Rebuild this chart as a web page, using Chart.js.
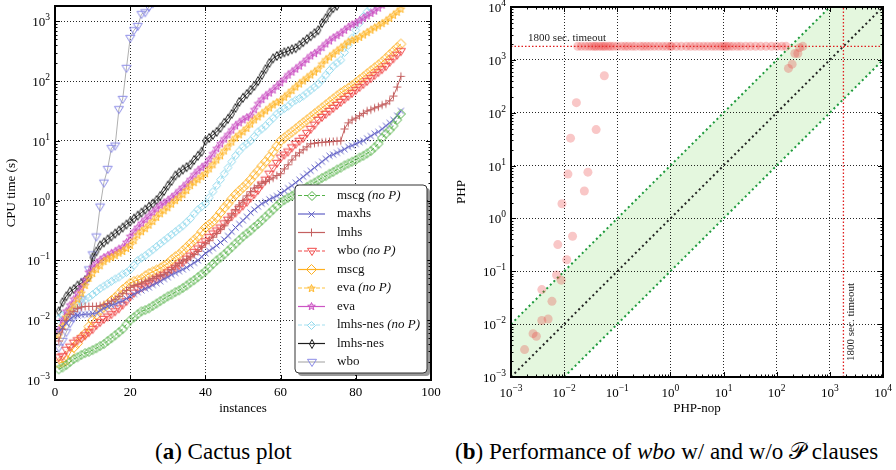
<!DOCTYPE html>
<html>
<head>
<meta charset="utf-8">
<script src="https://cdn.jsdelivr.net/npm/chart.js@4.4.1/dist/chart.umd.min.js"></script>
<style>
  body { margin: 0; background: #fff; width: 896px; height: 470px; position: relative; overflow: hidden; font-family: "Liberation Serif", "DejaVu Serif", serif; }
  #cactus { position: absolute; left: 0; top: 0; }
  #scatter { position: absolute; left: 445px; top: 0; }
  .cap { position: absolute; top: 440px; font-size: 23px; line-height: 1; white-space: nowrap; color: #000; }
</style>
</head>
<body>
<canvas id="cactus" width="445" height="420"></canvas>
<canvas id="scatter" width="451" height="420"></canvas>
<div class="cap" style="left:155px">(<b>a</b>) Cactus plot</div>
<div class="cap" style="left:455px">(<b>b</b>) Performance of <i>wbo</i> w/ and w/o 𝒫 clauses</div>
<script>
// ---- data: cactus plot (CPU time in seconds per solved instance) ----
const instances = [1,2,3,4,5,6,7,8,9,10,11,12,13,14,15,16,17,18,19,20,21,22,23,24,25,26,27,28,29,30,
  31,32,33,34,35,36,37,38,39,40,41,42,43,44,45,46,47,48,49,50,51,52,53,54,55,56,57,58,59,60,
  61,62,63,64,65,66,67,68,69,70,71,72,73,74,75,76,77,78,79,80,81,82,83,84,85,86,87,88,89,90,91,92];

const mscgNoP = [0.00151,0.00162,0.00178,0.0020,0.00224,0.0024,0.00263,0.00282,0.00295,0.00316,
  0.0034,0.0037,0.004,0.0045,0.005,0.0056,0.0063,0.0071,0.0085,0.01,
  0.0112,0.0126,0.0141,0.0148,0.0158,0.0174,0.019,0.0209,0.0229,0.0251,
  0.0269,0.0295,0.0316,0.0347,0.038,0.0427,0.0468,0.0525,0.0589,0.066,
  0.0759,0.0871,0.1,0.112,0.126,0.145,0.166,0.191,0.219,0.251,
  0.282,0.316,0.363,0.407,0.468,0.537,0.617,0.708,0.813,0.933,
  1.02,1.12,1.2,1.32,1.41,1.55,1.7,1.86,2.0,2.19,
  2.4,2.57,2.82,3.02,3.31,3.55,3.89,4.17,4.47,4.79,
  5.25,5.62,6.17,6.76,7.76,8.91,11.2,13.2,15.1,17.8,
  22.4,28.2];
const maxhs = [0.0063,0.0076,0.0089,0.0105,0.0117,0.012,0.0123,0.0126,0.0126,0.0129,
  0.0132,0.0145,0.0158,0.017,0.0178,0.0186,0.02,0.0209,0.0229,0.0251,
  0.0275,0.0295,0.0316,0.0339,0.0355,0.0389,0.0417,0.0447,0.049,0.0525,
  0.0575,0.0617,0.0661,0.0708,0.0759,0.0832,0.0912,0.1,0.115,0.132,
  0.145,0.16,0.178,0.2,0.224,0.257,0.302,0.355,0.407,0.468,
  0.537,0.631,0.708,0.794,0.891,0.955,1.05,1.12,1.2,1.32,
  1.45,1.62,1.78,2.0,2.24,2.51,2.82,3.16,3.55,3.98,
  4.47,5.01,5.62,5.89,6.31,6.76,7.24,7.94,8.32,8.91,
  9.55,10.0,11.0,12.0,13.2,14.1,15.8,17.8,20.0,22.4,
  26.3,31.6];
const lmhs = [0.0045,0.0071,0.01,0.0126,0.0141,0.0158,0.0166,0.017,0.017,0.017,
  0.017,0.0174,0.0182,0.0191,0.0209,0.0224,0.0251,0.0282,0.0316,0.0355,
  0.038,0.0398,0.0417,0.0447,0.0468,0.0501,0.0537,0.0562,0.0589,0.0631,
  0.0708,0.0813,0.0891,0.0977,0.105,0.115,0.126,0.141,0.166,0.191,
  0.214,0.245,0.282,0.331,0.38,0.468,0.575,0.708,0.851,1.0,
  1.2,1.41,1.62,1.78,1.95,2.09,2.24,2.4,2.63,2.82,
  3.39,3.98,4.79,5.62,6.31,7.08,7.94,8.91,9.12,9.33,
  9.44,9.55,9.66,9.77,9.9,10.0,15.8,20.0,22.4,24.0,
  26.3,28.8,31.6,33.1,35.5,37.2,39.8,41.7,46.8,56.2,
  79.4,120];
const wboNoP = [0.0024,0.0025,0.0032,0.0036,0.0042,0.0046,0.005,0.0056,0.0063,0.0071,
  0.0083,0.0093,0.0105,0.0115,0.0126,0.0141,0.0158,0.0182,0.0209,0.0251,
  0.0288,0.0331,0.0355,0.038,0.0417,0.0447,0.049,0.0525,0.0575,0.0631,
  0.0692,0.0759,0.0832,0.0933,0.107,0.12,0.138,0.158,0.182,0.209,
  0.245,0.282,0.316,0.355,0.417,0.479,0.55,0.631,0.724,0.832,
  0.955,1.12,1.29,1.51,1.86,2.24,2.82,3.55,4.27,5.25,
  5.89,6.61,7.76,8.91,10.0,11.2,13.5,15.8,18.6,22.4,
  25.1,28.2,31.6,35.5,39.8,44.7,50.1,56.2,63.1,70.8,
  79.4,89.1,100,112,126,141,158,178,209,240,
  275,316];
const mscg = [0.0019,0.002,0.0021,0.0028,0.0035,0.0041,0.0052,0.006,0.0078,0.01,
  0.0123,0.0148,0.0166,0.0186,0.0214,0.024,0.0275,0.0324,0.0363,0.0417,
  0.0447,0.0468,0.049,0.055,0.0603,0.0646,0.0692,0.0741,0.0813,0.0891,
  0.102,0.115,0.126,0.145,0.166,0.191,0.219,0.251,0.302,0.355,
  0.398,0.447,0.525,0.631,0.759,0.891,1.07,1.26,1.45,1.66,
  1.91,2.24,2.69,3.16,3.8,4.47,5.37,6.61,8.13,10.0,
  11.2,12.6,14.1,15.8,17.8,20.0,22.4,25.1,28.2,31.6,
  35.5,39.8,44.7,50.1,56.2,63.1,69.2,75.9,83.2,93.3,
  105,117,132,148,166,186,209,240,275,316,
  363,417];
const evaNoP = [0.0056,0.0079,0.0112,0.0141,0.0178,0.0224,0.0282,0.038,0.0501,0.0603,
  0.0708,0.0813,0.0955,0.105,0.112,0.12,0.132,0.141,0.158,0.178,
  0.214,0.263,0.302,0.339,0.389,0.447,0.525,0.603,0.676,0.759,
  0.871,1.0,1.12,1.26,1.48,1.78,2.0,2.24,2.51,2.82,
  3.39,3.98,4.79,5.62,6.76,7.94,9.55,11.2,12.6,14.1,
  16.2,19.1,22.4,25.1,28.2,31.6,35.5,39.8,43.7,46.8,
  53.7,60.3,69.2,79.4,89.1,100,112,126,141,158,
  191,224,251,282,316,355,398,447,479,501,
  537,589,646,708,776,832,912,1000,1122,1259,
  1413,1585];
const eva = [0.0068,0.01,0.0141,0.0178,0.0224,0.0282,0.0355,0.0468,0.0631,0.0759,
  0.0891,0.1,0.112,0.12,0.132,0.141,0.155,0.166,0.2,0.251,
  0.302,0.355,0.417,0.479,0.55,0.631,0.724,0.832,0.912,1.0,
  1.12,1.26,1.45,1.66,1.91,2.24,2.69,3.16,3.55,3.98,
  4.9,6.03,7.41,8.91,10.7,12.6,15.1,17.8,20.0,22.4,
  24.5,26.3,33.1,41.7,49.0,56.2,63.1,70.8,81.3,93.3,
  107,126,141,158,178,200,229,263,288,316,
  363,417,468,525,575,631,708,794,871,933,
  1023,1122,1230,1349,1479,1660,1862];
const lmhsNesNoP = [0.0107,0.012,0.0132,0.0145,0.0158,0.0178,0.02,0.0219,0.024,0.0269,
  0.0302,0.0339,0.0372,0.0407,0.0447,0.049,0.0525,0.0589,0.0631,0.0708,
  0.0832,0.1,0.11,0.12,0.135,0.151,0.17,0.191,0.214,0.24,
  0.269,0.302,0.339,0.38,0.437,0.501,0.603,0.708,0.794,0.891,
  1.12,1.41,1.78,2.24,2.82,3.55,4.47,5.62,6.76,7.94,
  8.91,10.0,11.9,14.1,15.8,17.8,20.9,24.0,28.2,31.6,
  34.7,38.0,43.7,47.9,51.3,56.2,63.1,70.8,79.4,89.1,
  105,126,151,178,200,224,302,398,525,708,
  933,1202,1445,1660,2000];
const lmhsNes = [0.0141,0.02,0.0251,0.0302,0.0331,0.038,0.0417,0.0468,0.0525,0.112,
  0.141,0.178,0.2,0.224,0.251,0.282,0.316,0.355,0.398,0.447,
  0.501,0.562,0.631,0.708,0.794,0.891,1.02,1.2,1.45,1.78,
  2.14,2.63,2.95,3.31,3.63,3.98,4.79,5.62,6.61,10.0,
  11.2,12.6,14.1,16.6,20.0,23.4,28.2,35.5,44.7,52.5,
  60.3,70.8,83.2,100,126,158,200,240,263,282,
  302,316,339,355,398,447,501,562,631,708,
  933,1122,1413,1660,1820];
const wbo = [0.0035,0.0045,0.0063,0.0089,0.0112,0.0141,0.0224,0.0447,0.0708,0.126,
  0.251,0.794,2.0,3.39,7.59,8.32,33.9,50.1,166,525,
  708,832,1318,1413,1738,2000];

const cactusXTicks = [0, 20, 40, 60, 80, 100];
const cactusYTicks = [0.001, 0.01, 0.1, 1, 10, 100, 1000];

// ---- data: wbo with (PHP) and without (PHP-nop) P clauses, seconds ----
const phpNop = [0.057,0.017,0.0132,0.04,0.0118,0.028,0.024,0.0091,0.0144,0.0076,
  0.0112,0.0072,0.0088,0.0038,0.0059,0.0038,0.005,0.0026,0.003,0.0018,
  166,195,219,250,270,310,
  0.018,0.021,0.025,0.029,0.033,0.037,0.04,0.045,0.05,0.055,
  0.06,0.068,0.075,0.085,0.1,0.12,0.14,0.16,0.19,0.22,
  0.27,0.31,0.36,0.42,0.5,0.6,0.72,0.85,1.0,1.05,
  1.3,1.6,2.0,2.4,2.9,3.5,4.2,5.0,6.0,7.0,
  8.3,9.5,10.5,11.5,13,15,18,21,26,32,
  40,50,63,80,100,125,150];
const php = [500,155,33,48,6.9,7.5,3.3,1.9,0.46,0.32,
  0.165,0.085,0.068,0.045,0.027,0.0117,0.0125,0.0066,0.0059,0.0033,
  690,830,1320,1320,1700,1800,
  1800,1800,1800,1800,1800,1800,1800,1800,1800,1800,
  1800,1800,1800,1800,1800,1800,1800,1800,1800,1800,
  1800,1800,1800,1800,1800,1800,1800,1800,1800,1800,
  1800,1800,1800,1800,1800,1800,1800,1800,1800,1800,
  1800,1800,1800,1800,1800,1800,1800,1800,1800,1800,
  1800,1800,1800,1800,1800,1800,1800];
const timeout = 1800;
const refX = [0.0001, 10000];
const refSame = [0.0001, 10000];
const refTenTimes = [0.001, 100000];
const refTenth = [0.00001, 1000];
const logTicks = [0.001, 0.01, 0.1, 1, 10, 100, 1000, 10000];

const serif = '"Liberation Serif", "DejaVu Serif", serif';

// hollow marker images
function marker(kind, color, w, h) {
  const c = document.createElement('canvas');
  c.width = w + 3; c.height = h + 3;
  const g = c.getContext('2d');
  const cx = c.width / 2, cy = c.height / 2, rx = w / 2, ry = h / 2;
  g.strokeStyle = color; g.lineWidth = 1; g.beginPath();
  if (kind === 'diamond') {
    g.moveTo(cx, cy - ry); g.lineTo(cx + rx, cy); g.lineTo(cx, cy + ry); g.lineTo(cx - rx, cy); g.closePath();
  } else if (kind === 'tri') {
    g.moveTo(cx - rx, cy - ry * 0.6); g.lineTo(cx + rx, cy - ry * 0.6); g.lineTo(cx, cy + ry); g.closePath();
  } else if (kind === 'plus') {
    g.moveTo(cx - rx, cy); g.lineTo(cx + rx, cy); g.moveTo(cx, cy - ry); g.lineTo(cx, cy + ry);
  } else if (kind === 'x') {
    g.moveTo(cx - rx, cy - ry); g.lineTo(cx + rx, cy + ry); g.moveTo(cx + rx, cy - ry); g.lineTo(cx - rx, cy + ry);
  } else if (kind === 'star') {
    for (let k = 0; k < 10; k++) {
      const r = k % 2 ? rx * 0.45 : rx;
      const t = -Math.PI / 2 + k * Math.PI / 5;
      const px = cx + r * Math.cos(t), py = cy + r * Math.sin(t);
      if (k) g.lineTo(px, py); else g.moveTo(px, py);
    }
    g.closePath();
    g.globalAlpha = 0.35; g.fillStyle = color; g.fill(); g.globalAlpha = 1;
  }
  g.stroke();
  return c;
}

const series = [
  { name: 'mscg', noP: true, data: mscgNoP, color: '#55b248', dash: [4, 2], mk: marker('diamond', '#55b248', 9, 9) },
  { name: 'maxhs', noP: false, data: maxhs, color: '#6262c6', dash: [], mk: marker('x', '#6262c6', 6, 6) },
  { name: 'lmhs', noP: false, data: lmhs, color: '#c46060', dash: [], mk: marker('plus', '#c46060', 8, 8) },
  { name: 'wbo', noP: true, data: wboNoP, color: '#f04848', dash: [4, 2], mk: marker('tri', '#f04848', 9, 9) },
  { name: 'mscg', noP: false, data: mscg, color: '#ffb020', dash: [], mk: marker('diamond', '#ffb020', 10, 10) },
  { name: 'eva', noP: true, data: evaNoP, color: '#ffc440', dash: [4, 2], mk: marker('star', '#ffb830', 8, 8) },
  { name: 'eva', noP: false, data: eva, color: '#cc55c4', dash: [], mk: marker('star', '#cc55c4', 8, 8) },
  { name: 'lmhs-nes', noP: true, data: lmhsNesNoP, color: '#a4e0f0', dash: [4, 2], mk: marker('diamond', '#90d8ec', 8, 8) },
  { name: 'lmhs-nes', noP: false, data: lmhsNes, color: '#1e1e1e', dash: [], mk: marker('diamond', '#1e1e1e', 5, 9) },
  { name: 'wbo', noP: false, data: wbo, color: '#b0b0b0', dash: [], mk: marker('tri', '#8a8ae6', 9, 9) }
];

function line(ctx, x1, y1, x2, y2) {
  ctx.beginPath(); ctx.moveTo(x1, y1); ctx.lineTo(x2, y2); ctx.stroke();
}

function drawPow(ctx, v, x, y, align) {
  const e = Math.round(Math.log10(v));
  const sup = e < 0 ? '\u2212' + (-e) : String(e);
  ctx.font = '13px ' + serif;
  const wb = ctx.measureText('10').width;
  ctx.font = '9.5px ' + serif;
  const ws = ctx.measureText(sup).width;
  const x0 = align === 'right' ? x - wb - ws : x - (wb + ws) / 2;
  ctx.textAlign = 'left'; ctx.textBaseline = 'alphabetic';
  ctx.font = '13px ' + serif;
  ctx.fillText('10', x0, y + 5);
  ctx.font = '9.5px ' + serif;
  ctx.fillText(sup, x0 + wb, y - 1);
}

function minorValues(sc) {
  const out = [];
  for (let d = Math.floor(Math.log10(sc.min)); d <= Math.ceil(Math.log10(sc.max)); d++) {
    for (let k = 2; k <= 9; k++) {
      const v = k * Math.pow(10, d);
      if (v > sc.min && v < sc.max) out.push(v);
    }
  }
  return out;
}

// frame, inward ticks, tick labels and axis titles
const axesDeco = {
  id: 'axesDeco',
  afterDraw(chart, args, o) {
    const { ctx, chartArea: a, scales: { x, y } } = chart;
    ctx.save();
    ctx.strokeStyle = '#000'; ctx.fillStyle = '#000'; ctx.lineWidth = 1; ctx.setLineDash([]);
    const xt = (v, len) => { const p = Math.round(x.getPixelForValue(v)) + 0.5; line(ctx, p, a.bottom, p, a.bottom - len); line(ctx, p, a.top, p, a.top + len); };
    const yt = (v, len) => { const p = Math.round(y.getPixelForValue(v)) + 0.5; line(ctx, a.left, p, a.left + len, p); line(ctx, a.right, p, a.right - len, p); };
    x.ticks.forEach(t => xt(t.value, 5));
    y.ticks.forEach(t => yt(t.value, 5));
    if (x.type === 'logarithmic') minorValues(x).forEach(v => xt(v, 2.5));
    if (y.type === 'logarithmic') minorValues(y).forEach(v => yt(v, 2.5));

    ctx.lineWidth = 2;
    ctx.strokeRect(a.left, a.top, a.right - a.left, a.bottom - a.top);

    // tick labels
    x.ticks.forEach(t => {
      const p = x.getPixelForValue(t.value);
      if (x.type === 'logarithmic') drawPow(ctx, t.value, p, a.bottom + o.xLabelGap, 'center');
      else {
        ctx.font = '13px ' + serif; ctx.textAlign = 'center'; ctx.textBaseline = 'middle';
        ctx.fillText(String(t.value), p, a.bottom + o.xLabelGap);
      }
    });
    y.ticks.forEach(t => drawPow(ctx, t.value, a.left - 5, y.getPixelForValue(t.value), 'right'));

    // axis titles
    ctx.font = '13px ' + serif; ctx.textAlign = 'center'; ctx.textBaseline = 'middle';
    ctx.fillText(o.xTitle, (a.left + a.right) / 2, a.bottom + o.xTitleGap);
    ctx.translate(o.yTitleX, (a.top + a.bottom) / 2);
    ctx.rotate(-Math.PI / 2);
    ctx.fillText(o.yTitle, 0, 0);
    ctx.restore();
  }
};

// legend box of the cactus plot
const cactusLegend = {
  id: 'cactusLegend',
  afterDraw(chart) {
    const { ctx, chartArea: a } = chart;
    const w = 132, h = 188;
    const bx = a.right - 4 - w, by = a.bottom - 7 - h;
    ctx.save();
    ctx.fillStyle = 'rgba(0,0,0,0.4)';
    ctx.beginPath(); ctx.roundRect(bx + 3, by + 3, w, h, 4); ctx.fill();
    ctx.fillStyle = '#fff';
    ctx.beginPath(); ctx.roundRect(bx, by, w, h, 4); ctx.fill();
    ctx.strokeStyle = '#333'; ctx.lineWidth = 1; ctx.stroke();
    series.forEach((s, i) => {
      const yy = by + 10.5 + i * 18.5;
      ctx.strokeStyle = s.color; ctx.lineWidth = 1.2; ctx.setLineDash(s.dash);
      line(ctx, bx + 3, yy, bx + 30, yy);
      ctx.setLineDash([]);
      ctx.drawImage(s.mk, Math.round(bx + 16.5 - s.mk.width / 2), Math.round(yy - s.mk.height / 2));
      ctx.fillStyle = '#111'; ctx.textAlign = 'left'; ctx.textBaseline = 'middle';
      ctx.font = '13px ' + serif;
      ctx.fillText(s.name, bx + 42, yy);
      if (s.noP) {
        const nw = ctx.measureText(s.name + ' ').width;
        ctx.font = 'italic 13px ' + serif;
        ctx.fillText('(no P)', bx + 42 + nw, yy);
      }
    });
    ctx.restore();
  }
};

// timeout annotations of the scatter plot
const timeoutText = {
  id: 'timeoutText',
  afterDraw(chart) {
    const { ctx, scales: { x, y } } = chart;
    ctx.save();
    ctx.fillStyle = '#222'; ctx.font = '11px ' + serif;
    ctx.textAlign = 'left'; ctx.textBaseline = 'alphabetic';
    ctx.fillText('1800 sec. timeout', x.getPixelForValue(0.0021), y.getPixelForValue(timeout) - 5);
    ctx.translate(x.getPixelForValue(timeout) + 8, y.getPixelForValue(0.011));
    ctx.rotate(-Math.PI / 2);
    ctx.textAlign = 'center'; ctx.textBaseline = 'middle';
    ctx.fillText('1800 sec. timeout', 0, 0);
    ctx.restore();
  }
};

const gridOpts = { color: 'rgba(0,0,0,0.85)', lineWidth: 1, drawTicks: false };
const borderOpts = { display: false, dash: [1, 2] };

new Chart(document.getElementById('cactus'), {
  type: 'line',
  data: {
    labels: instances,
    datasets: series.map(s => ({
      label: s.name + (s.noP ? ' (no P)' : ''),
      data: s.data,
      borderColor: s.color,
      borderWidth: 1,
      borderDash: s.dash,
      pointStyle: s.mk,
      pointRadius: 4,
      tension: 0,
      clip: 0
    }))
  },
  options: {
    responsive: false,
    animation: false,
    devicePixelRatio: 1,
    layout: { padding: { left: 55, right: 14, top: 6, bottom: 40 } },
    plugins: {
      legend: { display: false },
      tooltip: { enabled: false },
      axesDeco: { xTitle: 'instances', yTitle: 'CPU time (s)', xLabelGap: 13, xTitleGap: 29, yTitleX: 12 }
    },
    scales: {
      x: {
        type: 'linear', min: 0, max: 100,
        afterBuildTicks: s => { s.ticks = cactusXTicks.map(v => ({ value: v })); },
        afterFit: s => { s.height = 0; },
        ticks: { display: false },
        grid: gridOpts, border: borderOpts
      },
      y: {
        type: 'logarithmic', min: 0.001, max: timeout,
        afterBuildTicks: s => { s.ticks = cactusYTicks.map(v => ({ value: v })); },
        afterFit: s => { s.width = 0; },
        ticks: { display: false },
        grid: gridOpts, border: borderOpts
      }
    }
  },
  plugins: [axesDeco, cactusLegend]
});

const refLine = (ys, color) => ({
  data: refX.map((v, i) => ({ x: v, y: ys[i] })),
  borderColor: color, borderWidth: 2, borderDash: [2, 3], pointRadius: 0, clip: 0
});

new Chart(document.getElementById('scatter'), {
  type: 'line',
  data: {
    datasets: [
      {
        data: phpNop.map((v, i) => ({ x: v, y: php[i] })),
        showLine: false, pointRadius: 4.5, pointBorderWidth: 0,
        pointBackgroundColor: 'rgba(235,55,55,0.28)', clip: 0
      },
      {
        data: [{ x: logTicks[0], y: timeout }, { x: logTicks[logTicks.length - 1], y: timeout }],
        borderColor: '#e01e1e', borderWidth: 1.3, borderDash: [1.5, 2], pointRadius: 0, clip: 0
      },
      {
        data: [{ x: timeout, y: logTicks[0] }, { x: timeout, y: logTicks[logTicks.length - 1] }],
        borderColor: '#e01e1e', borderWidth: 1.3, borderDash: [1.5, 2], pointRadius: 0, clip: 0
      },
      refLine(refSame, '#222'),
      Object.assign(refLine(refTenTimes, '#1e9a3c'), { fill: '+1', backgroundColor: '#e4f7de' }),
      refLine(refTenth, '#1e9a3c')
    ]
  },
  options: {
    responsive: false,
    animation: false,
    devicePixelRatio: 1,
    layout: { padding: { left: 66, right: 13, top: 7, bottom: 43 } },
    plugins: {
      legend: { display: false },
      tooltip: { enabled: false },
      filler: { drawTime: 'beforeDraw' },
      axesDeco: { xTitle: 'PHP-nop', yTitle: 'PHP', xLabelGap: 15, xTitleGap: 32, yTitleX: 17 }
    },
    scales: {
      x: {
        type: 'logarithmic', min: 0.001, max: 10000,
        afterBuildTicks: s => { s.ticks = logTicks.map(v => ({ value: v })); },
        afterFit: s => { s.height = 0; },
        ticks: { display: false },
        grid: gridOpts, border: borderOpts
      },
      y: {
        type: 'logarithmic', min: 0.001, max: 10000,
        afterBuildTicks: s => { s.ticks = logTicks.map(v => ({ value: v })); },
        afterFit: s => { s.width = 0; },
        ticks: { display: false },
        grid: gridOpts, border: borderOpts
      }
    }
  },
  plugins: [axesDeco, timeoutText]
});
</script>
</body>
</html>
